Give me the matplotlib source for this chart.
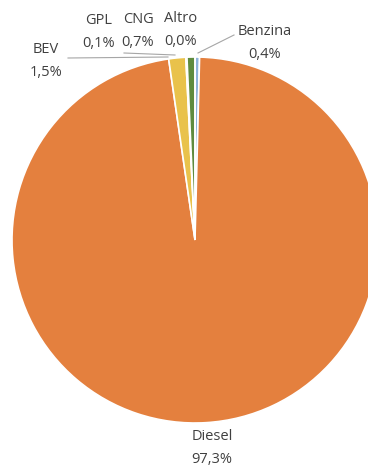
import numpy as np
import matplotlib.pyplot as plt

# quote di mercato per alimentazione
labels = ["Benzina", "Diesel", "BEV", "GPL", "CNG", "Altro"]
values = [0.4, 97.3, 1.5, 0.1, 0.7, 0.0]
pct_text = ["0,4%", "97,3%", "1,5%", "0,1%", "0,7%", "0,0%"]
colors = ["#8DB4DA", "#E4803E", "#E9C24B", "#E8E8E8", "#5F8B3E", "#A5A5A5"]

W, H = 368, 467
cx, cy, R = 195, 240, 183

fig = plt.figure(figsize=(W / 100, H / 100), dpi=100)
ax = fig.add_axes([(cx - R) / W, (H - cy - R) / H, 2 * R / W, 2 * R / H])

ax.pie(values, colors=colors, startangle=90, counterclock=False, radius=1,
       wedgeprops=dict(edgecolor="white", linewidth=1.2))
ax.set_xlim(-1, 1)
ax.set_ylim(-1, 1)
ax.set_aspect("equal")
ax.axis("off")

def to_data(px, py):
    return (px - cx) / R, (cy - py) / R

# posizioni etichette (pixel)
lab_pos = {"Benzina": (265, 43), "Diesel": (212, 448), "BEV": (46, 61),
           "GPL": (99, 32), "CNG": (138, 31), "Altro": (181, 30)}
# linee guida (da, a) in pixel
leaders = {"BEV": ((68, 58), (168, 57)),
           "GPL": ((124, 53), (175, 55)),
           "Benzina": ((234, 35), (198, 53))}

for name, pct in zip(labels, pct_text):
    x, y = to_data(*lab_pos[name])
    ax.text(x, y, name + "\n" + pct, ha="center", va="center", fontsize=10.5,
            color="#404040", linespacing=1.75, family="Open Sans", clip_on=False)

for name, (p0, p1) in leaders.items():
    x0, y0 = to_data(*p0)
    x1, y1 = to_data(*p1)
    ax.plot([x0, x1], [y0, y1], color="#A6A6A6", lw=0.8, clip_on=False)

fig.savefig("out.png", dpi=100)
